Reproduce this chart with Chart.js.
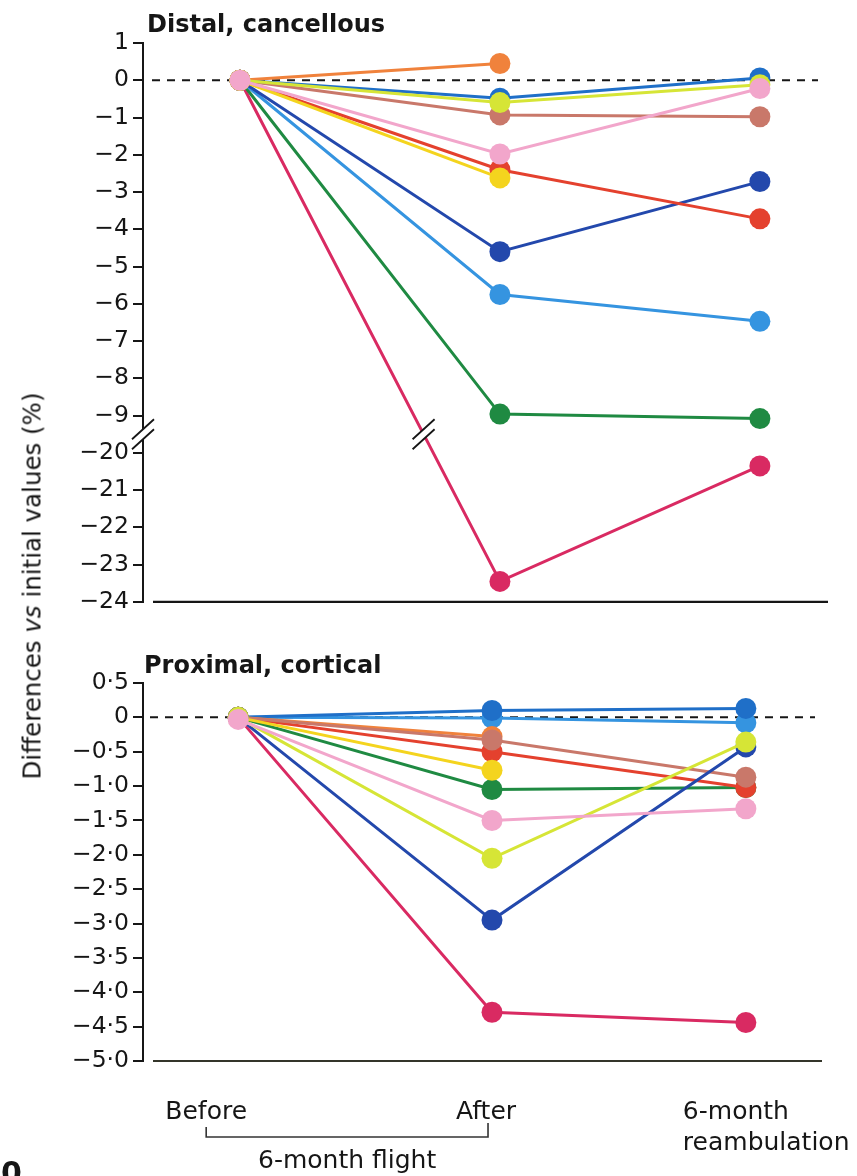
<!DOCTYPE html>
<html>
<head>
<meta charset="utf-8">
<script src="https://cdn.jsdelivr.net/npm/chart.js@4.4.1/dist/chart.umd.min.js"></script>
<style>
    html, body { margin: 0; padding: 0; background: #fff; }
    #page { position: relative; width: 857px; height: 1176px; overflow: hidden; font-family: "DejaVu Sans", sans-serif; color: #161616; }
    #distal-chart { position: absolute; left: 0; top: 0; }
    #proximal-chart { position: absolute; left: 0; top: 630px; }
    #y-title { position: absolute; left: 32px; top: 586px; transform: translate(-50%, -50%) rotate(-90deg); white-space: nowrap; font-size: 24.5px; }
</style>
</head>
<body>
<div id="page">
    <canvas id="distal-chart" width="857" height="620"></canvas>
    <canvas id="proximal-chart" width="857" height="546"></canvas>
    <div id="y-title">Differences <i>vs</i> initial values (%)</div>
</div>
<script>
const timepoints = ["Before", "After", "6-month reambulation"];

// Distal, cancellous (% change vs before)
const distalPink = [0, -1.98, -0.22];
const distalLime = [0, -0.6, -0.12];
const distalGold = [0, -2.62, null];
const distalOrange = [0, 0.45, null];
const distalBlue = [0, -0.48, 0.06];
const distalBrown = [0, -0.93, -0.98];
const distalRed = [0, -2.4, -3.72];
const distalNavy = [0, -4.6, -2.72];
const distalSky = [0, -5.75, -6.47];
const distalGreen = [0, -8.96, -9.08];
const distalCrimson = [0, -23.45, -20.35];

// Proximal, cortical
const proxPink = [-0.03, -1.5, -1.33];
const proxLime = [0, -2.05, -0.36];
const proxGold = [0, -0.77, null];
const proxOrange = [0, -0.28, null];
const proxBlue = [0, 0.1, 0.13];
const proxSky = [0, -0.01, -0.08];
const proxBrown = [0, -0.33, -0.87];
const proxRed = [0, -0.5, -1.02];
const proxGreen = [0, -1.05, -1.02];
const proxNavy = [0, -2.95, -0.43];
const proxCrimson = [0, -4.29, -4.44];

const distalTickValues = [1, 0, -1, -2, -3, -4, -5, -6, -7, -8, -9, -20, -21, -22, -23, -24];
const proxTickValues = [0.5, 0, -0.5, -1.0, -1.5, -2.0, -2.5, -3.0, -3.5, -4.0, -4.5, -5.0];

const colors = {
    pink: "#f2a6cb",
    lime: "#d6e536",
    gold: "#f4d41e",
    orange: "#f0823c",
    blue: "#1f6fc8",
    sky: "#3594e0",
    brown: "#c9786a",
    red: "#e4412e",
    navy: "#2348ac",
    green: "#1f8a42",
    crimson: "#d92a62"
};

const textColor = "#161616";
const fontFamily = "'DejaVu Sans', sans-serif";

// the distal axis is broken between -9 and -20
function distalToAxis(v) {
    return v < -9.5 ? v + 10 : v;
}
function distalFromAxis(v) {
    return v < -9.5 ? v - 10 : v;
}
function identity(v) {
    return v;
}

function formatTick(v, decimals) {
    const r = Math.round(v * 10) / 10;
    if (r === 0) return "0";
    let s = Math.abs(r).toFixed(decimals).replace(".", "\u00b7");
    return (r < 0 ? "\u2212" : "") + s;
}

function makeDataset(values, color, toAxis) {
    return {
        data: values.map((v, i) => ({ x: i, y: v === null ? null : toAxis(v) })),
        borderColor: color,
        backgroundColor: color,
        pointBackgroundColor: color,
        pointBorderColor: color,
        borderWidth: 3,
        pointRadius: 10.5,
        pointBorderWidth: 0,
        pointHoverRadius: 10.5,
        tension: 0,
        fill: false
    };
}

function drawBreak(ctx, cx, cy) {
    const dx = 11, dy = 10, gap = 5;
    ctx.save();
    ctx.fillStyle = "#fff";
    ctx.beginPath();
    ctx.moveTo(cx - dx, cy + dy - gap);
    ctx.lineTo(cx + dx, cy - dy - gap);
    ctx.lineTo(cx + dx, cy - dy + gap);
    ctx.lineTo(cx - dx, cy + dy + gap);
    ctx.closePath();
    ctx.fill();
    ctx.strokeStyle = textColor;
    ctx.lineWidth = 1.8;
    ctx.beginPath();
    ctx.moveTo(cx - dx, cy + dy - gap);
    ctx.lineTo(cx + dx, cy - dy - gap);
    ctx.moveTo(cx - dx, cy + dy + gap);
    ctx.lineTo(cx + dx, cy - dy + gap);
    ctx.stroke();
    ctx.restore();
}

function drawZeroLine(chart, x0, x1) {
    const ctx = chart.ctx;
    const y = chart.scales.y.getPixelForValue(0);
    ctx.save();
    ctx.strokeStyle = textColor;
    ctx.lineWidth = 2;
    ctx.setLineDash([8, 7]);
    ctx.beginPath();
    ctx.moveTo(x0, y);
    ctx.lineTo(x1, y);
    ctx.stroke();
    ctx.restore();
}

function drawBaseLine(chart, x0, x1, color) {
    const ctx = chart.ctx;
    const y = chart.chartArea.bottom;
    ctx.save();
    ctx.strokeStyle = color;
    ctx.lineWidth = 2.2;
    ctx.beginPath();
    ctx.moveTo(x0, y);
    ctx.lineTo(x1, y);
    ctx.stroke();
    ctx.restore();
}

function drawTitle(chart, text, x, y) {
    const ctx = chart.ctx;
    ctx.save();
    ctx.fillStyle = textColor;
    ctx.font = "bold 24px " + fontFamily;
    ctx.textBaseline = "alphabetic";
    ctx.fillText(text, x, y);
    ctx.restore();
}

const distalDecor = {
    id: "distalDecor",
    beforeDatasetsDraw(chart) {
        drawZeroLine(chart, 152, 818);
    },
    afterDraw(chart) {
        const ctx = chart.ctx;
        const xs = chart.scales.x, ys = chart.scales.y;
        drawBaseLine(chart, 153, 828, textColor);
        drawTitle(chart, "Distal, cancellous", 147, 32);

        const yBreak = ys.getPixelForValue(-9.5);
        drawBreak(ctx, chart.chartArea.left, yBreak);

        // break mark on the line that crosses the gap
        const yA = ys.getPixelForValue(distalToAxis(distalCrimson[0]));
        const yB = ys.getPixelForValue(distalToAxis(distalCrimson[1]));
        const xA = xs.getPixelForValue(0), xB = xs.getPixelForValue(1);
        const f = (yBreak - yA) / (yB - yA);
        drawBreak(ctx, xA + f * (xB - xA), yBreak);
    }
};

const proxDecor = {
    id: "proxDecor",
    beforeDatasetsDraw(chart) {
        drawZeroLine(chart, 150, 815);
    },
    afterDraw(chart) {
        const ctx = chart.ctx;
        const xs = chart.scales.x;
        drawBaseLine(chart, 153, 822, "#34352a");
        drawTitle(chart, "Proximal, cortical", 144, 43);

        const x0 = xs.getPixelForValue(0), x1 = xs.getPixelForValue(1), x2 = xs.getPixelForValue(2);
        ctx.save();
        ctx.fillStyle = textColor;
        ctx.font = "25px " + fontFamily;
        ctx.textAlign = "center";
        ctx.fillText("Before", x0 - 32, 489);
        ctx.fillText("After", x1 - 6, 489);
        ctx.textAlign = "left";
        ctx.fillText("6-month", x2 - 63, 489);
        ctx.fillText("reambulation", x2 - 63, 520);

        // flight bracket
        const bx0 = x0 - 32, bx1 = x1 - 4;
        ctx.strokeStyle = "#333";
        ctx.lineWidth = 1.6;
        ctx.beginPath();
        ctx.moveTo(bx0, 497);
        ctx.lineTo(bx0, 507);
        ctx.lineTo(bx1, 507);
        ctx.lineTo(bx1, 493);
        ctx.stroke();
        ctx.textAlign = "center";
        ctx.fillText("6-month flight", (bx0 + bx1) / 2, 538);

        ctx.textAlign = "left";
        ctx.font = "bold 30px " + fontFamily;
        ctx.fillText("0", 1, 553);
        ctx.restore();
    }
};

function buildChart(canvasId, datasets, cfg) {
    const ctx = document.getElementById(canvasId).getContext("2d");
    return new Chart(ctx, {
        type: "line",
        data: { datasets: datasets },
        options: {
            responsive: false,
            animation: false,
            events: [],
            layout: { padding: cfg.padding },
            plugins: { legend: { display: false }, tooltip: { enabled: false } },
            scales: {
                x: { type: "linear", min: cfg.xMin, max: cfg.xMax, display: false },
                y: {
                    type: "linear",
                    min: cfg.yMin,
                    max: cfg.yMax,
                    afterFit: function (scale) { scale.width = 143; },
                    afterBuildTicks: function (scale) {
                        scale.ticks = cfg.tickValues.map(v => ({ value: cfg.toAxis(v) }));
                    },
                    ticks: {
                        callback: function (value) {
                            return formatTick(cfg.fromAxis(value), cfg.decimals);
                        },
                        color: textColor,
                        font: { family: fontFamily, size: 23.5 },
                        padding: 4
                    },
                    grid: { drawOnChartArea: false, drawTicks: true, tickLength: 10, color: textColor, lineWidth: 2 },
                    border: { display: true, color: textColor, width: 2 }
                }
            }
        },
        plugins: [cfg.decor]
    });
}

const distalSets = [
    makeDataset(distalPink, colors.pink, distalToAxis),
    makeDataset(distalLime, colors.lime, distalToAxis),
    makeDataset(distalGold, colors.gold, distalToAxis),
    makeDataset(distalOrange, colors.orange, distalToAxis),
    makeDataset(distalBlue, colors.blue, distalToAxis),
    makeDataset(distalBrown, colors.brown, distalToAxis),
    makeDataset(distalRed, colors.red, distalToAxis),
    makeDataset(distalNavy, colors.navy, distalToAxis),
    makeDataset(distalSky, colors.sky, distalToAxis),
    makeDataset(distalGreen, colors.green, distalToAxis),
    makeDataset(distalCrimson, colors.crimson, distalToAxis)
];

const proxSets = [
    makeDataset(proxPink, colors.pink, identity),
    makeDataset(proxLime, colors.lime, identity),
    makeDataset(proxNavy, colors.navy, identity),
    makeDataset(proxGold, colors.gold, identity),
    makeDataset(proxBrown, colors.brown, identity),
    makeDataset(proxOrange, colors.orange, identity),
    makeDataset(proxBlue, colors.blue, identity),
    makeDataset(proxSky, colors.sky, identity),
    makeDataset(proxRed, colors.red, identity),
    makeDataset(proxGreen, colors.green, identity),
    makeDataset(proxCrimson, colors.crimson, identity)
];

buildChart("distal-chart", distalSets, {
    padding: { top: 43, right: 29, bottom: 16, left: 0 },
    xMin: -0.373, xMax: 2.262,
    yMin: -14, yMax: 1,
    tickValues: distalTickValues,
    toAxis: distalToAxis, fromAxis: distalFromAxis,
    decimals: 0,
    decor: distalDecor
});

buildChart("proximal-chart", proxSets, {
    padding: { top: 53, right: 35, bottom: 115, left: 0 },
    xMin: -0.375, xMax: 2.30,
    yMin: -5, yMax: 0.5,
    tickValues: proxTickValues,
    toAxis: identity, fromAxis: identity,
    decimals: 1,
    decor: proxDecor
});
</script>
</body>
</html>
